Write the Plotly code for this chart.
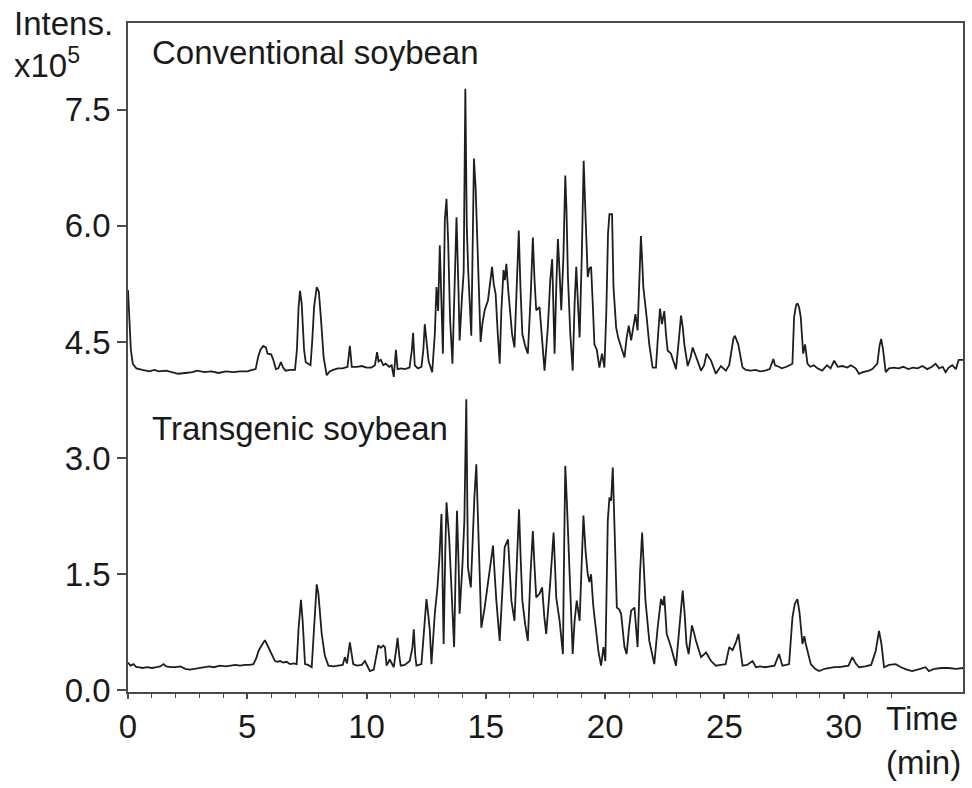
import plotly.graph_objects as go

# ---- Data ----
conv_time = [0.00, 0.05, 0.12, 0.20, 0.35, 0.6, 0.9, 1.1, 1.3, 1.6, 1.9, 2.1, 2.4, 2.7, 2.9, 3.2, 3.5, 3.8, 4.1, 4.4,
             4.7, 5.0, 5.2, 5.35, 5.45, 5.55, 5.67, 5.78, 5.85, 6.0, 6.08, 6.2, 6.3, 6.41, 6.5, 6.6, 6.8, 7.0, 7.08, 7.15,
             7.21, 7.28, 7.38, 7.45, 7.55, 7.65, 7.72, 7.80, 7.91, 8.00, 8.10, 8.20, 8.33, 8.45, 8.6, 8.8, 9.0, 9.2, 9.3, 9.38,
             9.6, 9.8, 10.0, 10.2, 10.35, 10.44, 10.5, 10.6, 10.7, 10.8, 10.95, 11.05, 11.14, 11.23, 11.3, 11.45, 11.6, 11.8, 11.9, 11.95,
             12.02, 12.15, 12.3, 12.38, 12.44, 12.52, 12.6, 12.75, 12.86, 12.93, 13.0, 13.07, 13.2, 13.28, 13.35, 13.42, 13.5, 13.6, 13.68, 13.77,
             13.85, 13.9, 14.0, 14.07, 14.14, 14.2, 14.26, 14.32, 14.39, 14.45, 14.5, 14.57, 14.64, 14.74, 14.78, 14.86, 14.95, 15.09, 15.18, 15.26,
             15.33, 15.41, 15.5, 15.58, 15.65, 15.74, 15.8, 15.86, 15.93, 16.0, 16.1, 16.2, 16.3, 16.38, 16.45, 16.53, 16.65, 16.76, 16.88, 16.97,
             17.04, 17.11, 17.25, 17.35, 17.46, 17.6, 17.7, 17.78, 17.83, 17.88, 17.95, 18.02, 18.09, 18.16, 18.25, 18.33, 18.38, 18.44, 18.54, 18.64,
             18.72, 18.79, 18.86, 18.93, 19.02, 19.1, 19.17, 19.27, 19.34, 19.41, 19.48, 19.55, 19.65, 19.76, 19.87, 19.97, 20.05, 20.12, 20.18, 20.29,
             20.35, 20.46, 20.55, 20.67, 20.81, 20.9, 20.99, 21.09, 21.18, 21.27, 21.36, 21.43, 21.5, 21.56, 21.6, 21.74, 21.85, 21.99, 22.13, 22.22,
             22.3, 22.38, 22.48, 22.55, 22.62, 22.76, 22.97, 23.08, 23.18, 23.25, 23.32, 23.46, 23.58, 23.67, 23.81, 24.02, 24.15, 24.25, 24.44, 24.64,
             24.85, 25.06, 25.2, 25.27, 25.38, 25.44, 25.58, 25.68, 25.76, 25.9, 26.1, 26.3, 26.5, 26.7, 26.9, 27.05, 27.12, 27.22, 27.4, 27.6,
             27.75, 27.85, 27.92, 28.0, 28.06, 28.13, 28.2, 28.3, 28.38, 28.48, 28.6, 28.75, 28.9, 29.1, 29.3, 29.45, 29.6, 29.75, 29.95, 30.15,
             30.3, 30.5, 30.64, 30.8, 31.06, 31.2, 31.41, 31.5, 31.57, 31.65, 31.76, 31.9, 32.1, 32.3, 32.5, 32.7, 32.9, 33.1, 33.3, 33.5,
             33.7, 33.85, 34.0, 34.15, 34.27, 34.4, 34.55, 34.7, 34.82, 35.0]
conv_int = [5.17, 4.80, 4.40, 4.22, 4.16, 4.14, 4.12, 4.14, 4.12, 4.13, 4.11, 4.09, 4.10, 4.11, 4.13, 4.11, 4.12, 4.10, 4.12, 4.11,
            4.12, 4.12, 4.14, 4.15, 4.30, 4.40, 4.45, 4.43, 4.35, 4.34, 4.28, 4.15, 4.16, 4.24, 4.17, 4.13, 4.14, 4.14, 4.40, 4.95,
            5.16, 5.00, 4.40, 4.24, 4.22, 4.20, 4.50, 4.95, 5.21, 5.15, 4.75, 4.30, 4.07, 4.12, 4.14, 4.16, 4.16, 4.18, 4.45, 4.18,
            4.18, 4.19, 4.17, 4.17, 4.20, 4.37, 4.25, 4.27, 4.20, 4.22, 4.18, 4.20, 4.05, 4.40, 4.15, 4.16, 4.15, 4.17, 4.40, 4.62,
            4.20, 4.16, 4.18, 4.40, 4.73, 4.50, 4.25, 4.11, 4.60, 5.21, 4.90, 5.75, 4.35, 6.07, 6.35, 5.80, 4.80, 4.22, 5.20, 6.11,
            5.20, 4.52, 5.08, 5.40, 7.77, 6.00, 5.43, 4.99, 4.58, 5.80, 6.87, 6.50, 5.77, 4.91, 4.50, 4.75, 4.91, 5.04, 5.25, 5.47,
            5.25, 5.12, 4.60, 4.22, 4.90, 5.43, 5.30, 5.51, 5.20, 4.91, 4.60, 4.43, 5.30, 5.94, 5.20, 4.60, 4.45, 4.35, 5.10, 5.85,
            5.30, 4.91, 4.95, 4.50, 4.13, 4.70, 5.30, 5.57, 5.00, 4.35, 5.20, 5.83, 5.40, 4.91, 5.60, 6.65, 6.20, 5.34, 4.60, 4.13,
            5.00, 5.47, 5.00, 4.56, 5.60, 6.84, 6.20, 5.34, 5.45, 5.47, 5.00, 4.47, 4.40, 4.17, 4.35, 4.17, 4.90, 5.90, 6.15, 6.15,
            5.21, 4.69, 4.55, 4.43, 4.30, 4.55, 4.71, 4.52, 4.70, 4.86, 4.65, 5.30, 5.87, 5.50, 5.21, 4.82, 4.47, 4.17, 4.17, 4.60,
            4.93, 4.73, 4.90, 4.60, 4.39, 4.35, 4.15, 4.50, 4.84, 4.70, 4.47, 4.19, 4.30, 4.43, 4.30, 4.13, 4.20, 4.35, 4.26, 4.09,
            4.19, 4.13, 4.20, 4.35, 4.55, 4.58, 4.47, 4.30, 4.17, 4.14, 4.13, 4.14, 4.12, 4.13, 4.15, 4.28, 4.20, 4.19, 4.16, 4.18,
            4.20, 4.22, 4.82, 4.97, 5.00, 4.95, 4.82, 4.35, 4.47, 4.22, 4.18, 4.20, 4.16, 4.13, 4.20, 4.16, 4.26, 4.18, 4.19, 4.17,
            4.20, 4.16, 4.09, 4.11, 4.13, 4.15, 4.22, 4.45, 4.54, 4.40, 4.11, 4.16, 4.17, 4.16, 4.18, 4.15, 4.17, 4.16, 4.19, 4.15,
            4.18, 4.22, 4.16, 4.18, 4.11, 4.17, 4.20, 4.15, 4.27, 4.27]

trans_time = [0.0, 0.1, 0.23, 0.35, 0.44, 0.6, 0.8, 1.0, 1.2, 1.35, 1.49, 1.6, 1.8, 2.0, 2.2, 2.4, 2.6, 2.8, 3.0, 3.2,
              3.4, 3.6, 3.86, 4.1, 4.3, 4.5, 4.7, 4.9, 5.1, 5.26, 5.38, 5.47, 5.6, 5.74, 5.82, 5.95, 6.05, 6.16, 6.25, 6.37,
              6.5, 6.65, 6.79, 6.95, 7.07, 7.15, 7.25, 7.32, 7.42, 7.55, 7.7, 7.78, 7.85, 7.91, 7.98, 8.05, 8.12, 8.25, 8.4, 8.6,
              8.8, 9.0, 9.09, 9.18, 9.3, 9.38, 9.44, 9.6, 9.8, 9.93, 10.05, 10.14, 10.3, 10.42, 10.49, 10.6, 10.7, 10.77, 10.84, 10.97,
              11.05, 11.14, 11.25, 11.3, 11.37, 11.43, 11.6, 11.81, 11.92, 11.98, 12.04, 12.09, 12.3, 12.42, 12.51, 12.58, 12.65, 12.72, 12.86, 12.97,
              13.05, 13.14, 13.23, 13.3, 13.35, 13.46, 13.56, 13.67, 13.73, 13.79, 13.86, 13.9, 14.02, 14.1, 14.18, 14.25, 14.37, 14.43, 14.52, 14.6,
              14.65, 14.71, 14.81, 14.95, 15.05, 15.13, 15.3, 15.37, 15.44, 15.58, 15.68, 15.79, 15.93, 16.0, 16.07, 16.2, 16.3, 16.39, 16.46, 16.53,
              16.65, 16.76, 16.87, 16.97, 17.04, 17.11, 17.25, 17.36, 17.45, 17.53, 17.7, 17.84, 17.9, 17.95, 18.09, 18.23, 18.28, 18.33, 18.4, 18.46,
              18.55, 18.64, 18.72, 18.81, 18.93, 19.01, 19.09, 19.18, 19.27, 19.34, 19.41, 19.5, 19.62, 19.72, 19.83, 19.93, 20.01, 20.11, 20.18, 20.25,
              20.32, 20.39, 20.49, 20.58, 20.67, 20.81, 20.9, 21.0, 21.09, 21.23, 21.36, 21.46, 21.55, 21.62, 21.69, 21.85, 22.06, 22.2, 22.34, 22.42,
              22.48, 22.58, 22.76, 22.97, 23.12, 23.25, 23.33, 23.41, 23.5, 23.64, 23.72, 23.81, 24.02, 24.23, 24.44, 24.64, 24.85, 25.05, 25.2, 25.34,
              25.48, 25.59, 25.68, 25.76, 25.95, 26.18, 26.32, 26.5, 26.7, 26.9, 27.1, 27.29, 27.43, 27.6, 27.71, 27.85, 27.95, 28.06, 28.15, 28.27,
              28.35, 28.41, 28.52, 28.62, 28.8, 28.97, 29.2, 29.4, 29.6, 29.8, 30.0, 30.2, 30.36, 30.5, 30.64, 30.9, 31.15, 31.34, 31.48, 31.58,
              31.69, 31.9, 32.18, 32.4, 32.65, 32.87, 33.1, 33.3, 33.43, 33.57, 33.8, 34.1, 34.4, 34.7, 35.0]
trans_int = [0.36, 0.32, 0.34, 0.30, 0.30, 0.29, 0.30, 0.29, 0.30, 0.31, 0.34, 0.31, 0.30, 0.30, 0.31, 0.28, 0.27, 0.28, 0.29, 0.30,
             0.31, 0.30, 0.32, 0.31, 0.32, 0.33, 0.32, 0.33, 0.33, 0.34, 0.42, 0.51, 0.58, 0.65, 0.60, 0.51, 0.45, 0.38, 0.37, 0.38,
             0.36, 0.37, 0.34, 0.35, 0.34, 0.80, 1.17, 0.90, 0.34, 0.33, 0.30, 0.70, 1.20, 1.37, 1.25, 0.95, 0.73, 0.45, 0.32, 0.31,
             0.32, 0.33, 0.43, 0.35, 0.62, 0.45, 0.34, 0.32, 0.33, 0.38, 0.30, 0.25, 0.27, 0.45, 0.58, 0.55, 0.58, 0.56, 0.32, 0.40,
             0.35, 0.30, 0.55, 0.68, 0.45, 0.32, 0.33, 0.38, 0.55, 0.79, 0.45, 0.32, 0.34, 0.80, 1.18, 1.00, 0.78, 0.34, 0.99, 1.33,
             1.70, 2.28, 0.60, 1.80, 2.43, 1.98, 1.24, 0.56, 1.50, 2.32, 1.60, 0.99, 1.63, 2.20, 3.76, 1.59, 1.33, 1.85, 2.50, 2.92,
             2.40, 1.76, 0.81, 1.07, 1.30, 1.50, 1.87, 1.50, 1.16, 0.64, 1.30, 1.85, 1.95, 1.60, 1.16, 0.90, 1.70, 2.34, 1.70, 1.16,
             0.85, 0.64, 1.50, 2.06, 1.60, 1.20, 1.25, 1.33, 0.95, 0.73, 1.40, 2.04, 1.60, 1.20, 0.90, 0.47, 1.80, 2.90, 2.40, 1.85,
             1.10, 0.47, 0.90, 1.16, 0.90, 1.60, 2.26, 1.80, 1.50, 1.40, 1.50, 1.10, 0.73, 0.50, 0.32, 0.56, 0.38, 2.19, 2.49, 2.45,
             2.88, 2.11, 1.07, 1.05, 0.99, 0.56, 0.47, 0.80, 1.03, 1.07, 0.56, 1.50, 2.04, 1.60, 1.16, 0.64, 0.34, 0.81, 1.18, 1.10,
             1.22, 0.73, 0.56, 0.32, 0.90, 1.29, 1.00, 0.60, 0.47, 0.84, 0.75, 0.64, 0.43, 0.49, 0.38, 0.32, 0.33, 0.34, 0.56, 0.52,
             0.62, 0.73, 0.50, 0.32, 0.33, 0.38, 0.30, 0.31, 0.30, 0.31, 0.32, 0.47, 0.32, 0.33, 0.34, 0.94, 1.12, 1.18, 1.00, 0.60,
             0.70, 0.60, 0.45, 0.34, 0.28, 0.25, 0.28, 0.29, 0.30, 0.30, 0.31, 0.32, 0.43, 0.35, 0.30, 0.31, 0.33, 0.51, 0.77, 0.60,
             0.30, 0.33, 0.34, 0.30, 0.27, 0.25, 0.27, 0.29, 0.30, 0.25, 0.28, 0.29, 0.29, 0.28, 0.29]

x_ticks = [0, 5, 10, 15, 20, 25, 30]
x_minor_ticks = list(range(0, 33))
y_ticks = [0.0, 1.5, 3.0, 4.5, 6.0, 7.5]
y_tick_labels = ["0.0", "1.5", "3.0", "4.5", "6.0", "7.5"]

FONT = "Liberation Sans, Arial, sans-serif"
FS = 33
LINE = "#1e1e1e"
AXC = "#4a4a4a"

fig = go.Figure()
fig.add_trace(go.Scatter(x=conv_time, y=conv_int, mode="lines",
                         line=dict(color=LINE, width=1.8), showlegend=False))
fig.add_trace(go.Scatter(x=trans_time, y=trans_int, mode="lines",
                         line=dict(color=LINE, width=1.8), showlegend=False))

fig.update_layout(
    width=972, height=788,
    margin=dict(l=128, r=7, t=23, b=96),
    paper_bgcolor="white", plot_bgcolor="white",
    font=dict(family=FONT, size=FS, color="#1a1a1a"),
    showlegend=False,
)
fig.update_xaxes(
    range=[0, 35], showgrid=False, zeroline=False,
    showline=True, mirror=True, linecolor=AXC, linewidth=1.5,
    tickmode="array", tickvals=x_ticks, ticktext=[str(v) for v in x_ticks],
    ticks="outside", ticklen=5, tickwidth=1.5, tickcolor=AXC,
    minor=dict(tickvals=x_minor_ticks, ticks="outside", ticklen=4, tickwidth=1.2, tickcolor=AXC),
    tickfont=dict(family=FONT, size=FS, color="#1a1a1a"),
)
fig.update_yaxes(
    range=[-0.02, 8.62], showgrid=False, zeroline=False,
    showline=True, mirror=True, linecolor=AXC, linewidth=1.5,
    tickmode="array", tickvals=y_ticks, ticktext=y_tick_labels,
    ticks="outside", ticklen=9, tickwidth=1.5, tickcolor=AXC,
    tickfont=dict(family=FONT, size=FS, color="#1a1a1a"),
)

ann_font = dict(family=FONT, size=FS, color="#1a1a1a")
fig.add_annotation(x=0.93, y=8.24, xref="x", yref="y", text="Conventional soybean",
                   showarrow=False, xanchor="left", yanchor="middle", font=ann_font)
fig.add_annotation(x=0.93, y=3.38, xref="x", yref="y", text="Transgenic soybean",
                   showarrow=False, xanchor="left", yanchor="middle", font=ann_font)
fig.add_annotation(x=-0.139, y=1.0, xref="paper", yref="paper", text="Intens.",
                   showarrow=False, xanchor="left", yanchor="middle", font=ann_font)
fig.add_annotation(x=-0.139, y=0.94, xref="paper", yref="paper", text="x10<sup>5</sup>",
                   showarrow=False, xanchor="left", yanchor="middle", font=ann_font)
fig.add_annotation(x=0.996, y=-0.039, xref="paper", yref="paper", text="Time",
                   showarrow=False, xanchor="right", yanchor="middle", font=ann_font)
fig.add_annotation(x=1.0, y=-0.105, xref="paper", yref="paper", text="(min)",
                   showarrow=False, xanchor="right", yanchor="middle", font=ann_font)

fig.write_html("out.html")
